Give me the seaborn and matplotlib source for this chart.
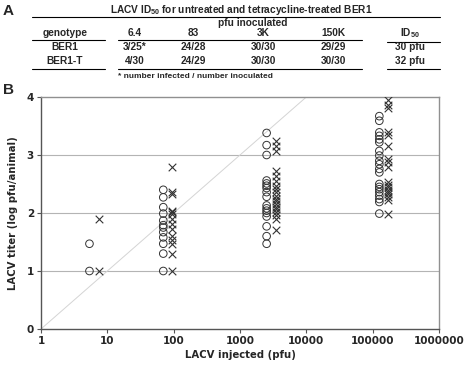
import numpy as np
import pandas as pd
import seaborn as sns
import matplotlib.pyplot as plt
from matplotlib.lines import Line2D

# table (panel A)
dose_labels = ['6.4', '83', '3K', '150K']
ber1_row = ['3/25*', '24/28', '30/30', '29/29']
ber1t_row = ['4/30', '24/29', '30/30', '30/30']
id50 = ['30 pfu', '32 pfu']

# scatter (panel B): titer per animal, by dose group
doses = [6.4, 83, 3000, 150000]
ber1_titers = [
    [1.47, 1.0],
    [2.40, 2.27, 2.10, 1.99, 1.87, 1.79, 1.75, 1.67, 1.58, 1.47, 1.30, 1.0],
    [3.38, 3.17, 3.00, 2.56, 2.51, 2.47, 2.43, 2.36, 2.28, 2.13, 2.08, 2.04,
     2.00, 1.94, 1.77, 1.60, 1.47],
    [3.67, 3.59, 3.39, 3.33, 3.27, 3.22, 3.07, 2.99, 2.90, 2.84, 2.76, 2.70,
     2.50, 2.45, 2.41, 2.36, 2.30, 2.24, 2.19, 1.99],
]
ber1t_titers = [
    [1.90, 1.0],
    [2.79, 2.37, 2.32, 2.04, 2.01, 1.99, 1.90, 1.81, 1.73, 1.61, 1.53, 1.47,
     1.30, 1.0],
    [3.24, 3.16, 3.07, 2.73, 2.64, 2.56, 2.47, 2.42, 2.36, 2.30, 2.24, 2.20,
     2.16, 2.11, 2.07, 2.01, 1.96, 1.90, 1.70],
    [3.94, 3.87, 3.81, 3.39, 3.34, 3.16, 2.93, 2.88, 2.79, 2.53, 2.49, 2.44,
     2.40, 2.36, 2.32, 2.27, 2.23, 1.99],
]

rows = []
for d, vals in zip(doses, ber1_titers):
    for v in vals:
        rows.append({'dose': d * 0.84, 'titer': v, 'genotype': 'BER1'})
for d, vals in zip(doses, ber1t_titers):
    for v in vals:
        rows.append({'dose': d * 1.15, 'titer': v, 'genotype': 'BER1-T'})
df = pd.DataFrame(rows)

sns.set_style('white')
plt.rcParams['font.family'] = ['DejaVu Sans']

W, H = 466, 369
fig = plt.figure(figsize=(W / 100, H / 100), dpi=100)


def fx(x):
    return x / W


def fy(y):
    return 1 - y / H


# ---- panel A: table ----
tfont = dict(family='Liberation Sans', fontweight='bold', fontsize=7.3,
             ha='center', va='center')
fig.text(fx(3), fy(11), 'A', family='Liberation Sans', fontsize=11,
         fontweight='bold', ha='left', va='center')
fig.text(fx(241), fy(10), r'LACV $\mathregular{ID_{50}}$ for untreated and tetracycline-treated BER1', **tfont)
fig.add_artist(Line2D([fx(32), fx(440)], [fy(16.5), fy(16.5)], color='black', lw=0.8))
fig.text(fx(253), fy(23.5), 'pfu inoculated', **tfont)

col_x = [135, 193, 263, 333]
hdr_y, r1_y, r2_y = 33.5, 47.5, 61.5
fig.text(fx(65), fy(hdr_y), 'genotype', **tfont)
for cx, lab in zip(col_x, dose_labels):
    fig.text(fx(cx), fy(hdr_y), lab, **tfont)
fig.text(fx(410), fy(hdr_y), r'$\mathregular{ID_{50}}$', **tfont)

fig.text(fx(65), fy(r1_y), 'BER1', **tfont)
fig.text(fx(65), fy(r2_y), 'BER1-T', **tfont)
for cx, a, b in zip(col_x, ber1_row, ber1t_row):
    fig.text(fx(cx), fy(r1_y), a, **tfont)
    fig.text(fx(cx), fy(r2_y), b, **tfont)
fig.text(fx(410), fy(r1_y), id50[0], **tfont)
fig.text(fx(410), fy(r2_y), id50[1], **tfont)

for x0, x1, yl in [(32, 105, 40), (118, 362, 40), (387, 440, 41.5)]:
    fig.add_artist(Line2D([fx(x0), fx(x1)], [fy(yl), fy(yl)], color='black', lw=0.8))
for x0, x1 in [(32, 105), (118, 362), (387, 440)]:
    fig.add_artist(Line2D([fx(x0), fx(x1)], [fy(69), fy(69)], color='black', lw=0.8))
fig.text(fx(118), fy(76.5), '* number infected / number inoculated',
         family='Liberation Sans', fontweight='bold', fontsize=6.0,
         ha='left', va='center')

# ---- panel B: scatter ----
fig.text(fx(3), fy(90), 'B', family='Liberation Sans', fontsize=11,
         fontweight='bold', ha='left', va='center')
ax = fig.add_axes([fx(41), fy(329), (439 - 41) / W, (329 - 97) / H])

for y in [1, 2, 3]:
    ax.axhline(y, color='#b4b4b4', lw=0.8, zorder=0)
xl = np.array([1, 10 ** 4])
ax.plot(xl, np.log10(xl), color='#d4d4d4', lw=0.7, zorder=0)

sub1 = df[df.genotype == 'BER1']
sub2 = df[df.genotype == 'BER1-T']
sns.scatterplot(data=sub1, x='dose', y='titer', marker='o', s=30,
                facecolor='none', edgecolor='#333333', linewidth=0.7, ax=ax, zorder=3)
sns.scatterplot(data=sub2, x='dose', y='titer', marker='x', s=30,
                color='#333333', linewidth=0.8, ax=ax, zorder=3)

ax.set_xscale('log')
ax.set_xlim(1, 1e6)
ax.set_ylim(0, 4)
ax.set_xticks([10 ** i for i in range(7)])
ax.set_xticklabels(['1', '10', '100', '1000', '10000', '100000', '1000000'])
ax.set_yticks([0, 1, 2, 3, 4])
ax.minorticks_off()
ax.tick_params(axis='both', which='major', length=3, width=0.8, color='#555555',
               labelsize=7.5, pad=2, bottom=True, left=True)
for lab in ax.get_xticklabels() + ax.get_yticklabels():
    lab.set_fontweight('bold')
ax.set_xlabel('LACV injected (pfu)', fontsize=7.3, fontweight='bold', labelpad=3)
ax.set_ylabel('LACV titer (log pfu/animal)', fontsize=7.3, fontweight='bold', labelpad=6)

for side in ['left', 'bottom']:
    ax.spines[side].set_color('#555555')
    ax.spines[side].set_linewidth(1.0)
for side in ['top', 'right']:
    ax.spines[side].set_color('#909090')
    ax.spines[side].set_linewidth(1.0)
    ax.spines[side].set_visible(True)

fig.savefig('out.png', dpi=100)
